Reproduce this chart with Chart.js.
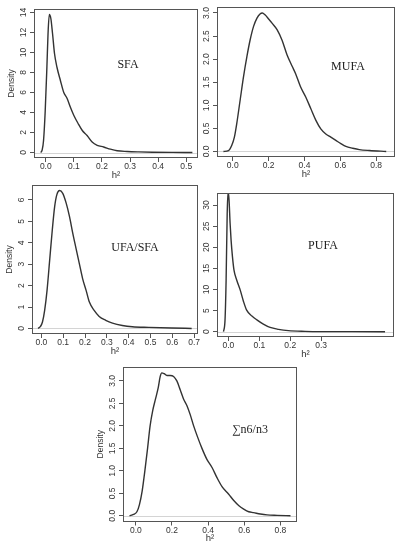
<!DOCTYPE html>
<html>
<head>
<meta charset="utf-8">
<script src="https://cdn.jsdelivr.net/npm/chart.js@4.4.1/dist/chart.umd.min.js"></script>
<style>
  html, body { margin: 0; padding: 0; background: #fff; }
  #page { position: relative; width: 399px; height: 550px; overflow: hidden; }
  #page canvas { position: absolute; left: 0; top: 0; }
</style>
</head>
<body>
<div id="page">
  <canvas id="sfa" width="399" height="550"></canvas>
  <canvas id="mufa" width="399" height="550"></canvas>
  <canvas id="ufasfa" width="399" height="550"></canvas>
  <canvas id="pufa" width="399" height="550"></canvas>
  <canvas id="n6n3" width="399" height="550"></canvas>
</div>
<script>
// posterior densities of h2
const sfaH2 = [-0.018, -0.013, -0.008, -0.002, 0.004, 0.008, 0.0125, 0.018, 0.024, 0.031, 0.04, 0.052, 0.064, 0.076, 0.088, 0.1, 0.115, 0.13, 0.147, 0.165, 0.183, 0.206, 0.23, 0.254, 0.29, 0.33, 0.38, 0.45, 0.522];
const sfaDensity = [0, 0.25, 1.2, 4.2, 8.6, 11.9, 13.8, 13.4, 11.9, 9.9, 8.5, 7.2, 6.0, 5.4, 4.5, 3.7, 2.9, 2.2, 1.7, 1.05, 0.72, 0.55, 0.33, 0.17, 0.1, 0.06, 0.03, 0.01, 0];

const mufaH2 = [-0.052, -0.024, -0.006, 0.009, 0.022, 0.041, 0.06, 0.079, 0.097, 0.116, 0.135, 0.152, 0.165, 0.18, 0.2, 0.219, 0.247, 0.275, 0.303, 0.332, 0.35, 0.378, 0.407, 0.435, 0.463, 0.491, 0.519, 0.547, 0.575, 0.603, 0.631, 0.669, 0.706, 0.763, 0.856];
const mufaDensity = [0, 0.02, 0.13, 0.31, 0.6, 1.11, 1.62, 2.06, 2.42, 2.71, 2.89, 2.98, 3.0, 2.96, 2.87, 2.78, 2.64, 2.41, 2.09, 1.84, 1.69, 1.4, 1.18, 0.93, 0.68, 0.49, 0.38, 0.31, 0.24, 0.17, 0.11, 0.07, 0.04, 0.02, 0];

const ufaSfaH2 = [-0.015, -0.005, 0.005, 0.015, 0.026, 0.038, 0.05, 0.061, 0.071, 0.083, 0.098, 0.114, 0.129, 0.144, 0.159, 0.174, 0.189, 0.205, 0.22, 0.242, 0.265, 0.295, 0.326, 0.371, 0.417, 0.492, 0.598, 0.689];
const ufaSfaDensity = [0, 0.08, 0.3, 0.84, 1.78, 3.19, 4.6, 5.7, 6.25, 6.44, 6.31, 5.84, 5.22, 4.44, 3.73, 3.03, 2.33, 1.78, 1.23, 0.84, 0.56, 0.38, 0.25, 0.14, 0.08, 0.05, 0.02, 0];

const pufaH2 = [-0.016, -0.011, -0.0075, -0.004, -0.001, 0.002, 0.0054, 0.0086, 0.013, 0.018, 0.027, 0.038, 0.049, 0.059, 0.076, 0.092, 0.113, 0.135, 0.162, 0.194, 0.248, 0.3, 0.4, 0.507];
const pufaDensity = [0, 2.8, 12.2, 28, 33.2, 31.2, 25.7, 21.7, 17.8, 14.6, 12.2, 9.9, 7.1, 5.1, 3.7, 2.8, 1.8, 1.0, 0.55, 0.24, 0.08, 0.02, 0.005, 0];

const n6n3H2 = [-0.035, -0.013, 0.006, 0.02, 0.035, 0.05, 0.065, 0.079, 0.094, 0.109, 0.124, 0.135, 0.144, 0.157, 0.172, 0.19, 0.209, 0.227, 0.246, 0.264, 0.283, 0.301, 0.32, 0.342, 0.366, 0.394, 0.421, 0.449, 0.477, 0.514, 0.542, 0.569, 0.597, 0.625, 0.652, 0.689, 0.726, 0.782, 0.856];
const n6n3Density = [0, 0.03, 0.09, 0.25, 0.55, 1.0, 1.5, 2.0, 2.35, 2.6, 2.85, 3.1, 3.18, 3.16, 3.12, 3.12, 3.1, 3.0, 2.8, 2.6, 2.45, 2.25, 2.0, 1.75, 1.5, 1.25, 1.08, 0.85, 0.65, 0.48, 0.34, 0.23, 0.15, 0.09, 0.07, 0.04, 0.02, 0.01, 0];

// tick labels
const sfaXTicks = [0, 0.1, 0.2, 0.3, 0.4, 0.5];
const sfaYTicks = [0, 2, 4, 6, 8, 10, 12, 14];
const mufaXTicks = [0, 0.2, 0.4, 0.6, 0.8];
const mufaYTicks = [0, 0.5, 1, 1.5, 2, 2.5, 3];
const ufaSfaXTicks = [0, 0.1, 0.2, 0.3, 0.4, 0.5, 0.6, 0.7];
const ufaSfaYTicks = [0, 1, 2, 3, 4, 5, 6];
const pufaXTicks = [0, 0.1, 0.2, 0.3];
const pufaYTicks = [0, 5, 10, 15, 20, 25, 30];
const n6n3XTicks = [0, 0.2, 0.4, 0.6, 0.8];
const n6n3YTicks = [0, 0.5, 1, 1.5, 2, 2.5, 3];

Chart.defaults.font.family = "'Liberation Sans', Arial, sans-serif";

const panels = [
  { id: "sfa", name: "SFA", h2: sfaH2, density: sfaDensity, xTicks: sfaXTicks, yTicks: sfaYTicks, yDigits: 0,
    box: { l: 34, t: 9, r: 198, b: 158 }, xRange: [-0.042, 0.542], yRange: [-0.55, 14.35], nameAt: [128, 65], ylab: true },
  { id: "mufa", name: "MUFA", h2: mufaH2, density: mufaDensity, xTicks: mufaXTicks, yTicks: mufaYTicks, yDigits: 1,
    box: { l: 217, t: 7, r: 395, b: 157 }, xRange: [-0.088, 0.905], yRange: [-0.12, 3.13], nameAt: [348, 67], ylab: false },
  { id: "ufasfa", name: "UFA/SFA", h2: ufaSfaH2, density: ufaSfaDensity, xTicks: ufaSfaXTicks, yTicks: ufaSfaYTicks, yDigits: 0,
    box: { l: 32, t: 185, r: 198, b: 334 }, xRange: [-0.043, 0.718], yRange: [-0.26, 6.7], nameAt: [135, 248], ylab: true },
  { id: "pufa", name: "PUFA", h2: pufaH2, density: pufaDensity, xTicks: pufaXTicks, yTicks: pufaYTicks, yDigits: 0,
    box: { l: 217, t: 193, r: 394, b: 337 }, xRange: [-0.037, 0.536], yRange: [-1.26, 32.86], nameAt: [323, 246], ylab: false },
  { id: "n6n3", name: "\u2211n6/n3", h2: n6n3H2, density: n6n3Density, xTicks: n6n3XTicks, yTicks: n6n3YTicks, yDigits: 1,
    box: { l: 123, t: 367, r: 297, b: 521.5 }, xRange: [-0.071, 0.892], yRange: [-0.127, 3.31], nameAt: [250, 430], ylab: true }
];

// R-like frame: box, grey zero line, rotated y labels, axis titles, panel name
function rFrame(p) {
  return {
    id: "rFrame",
    beforeDatasetsDraw(chart) {
      const { ctx, chartArea: a, scales: { y } } = chart;
      const y0 = Math.round(y.getPixelForValue(0)) + 0.5;
      ctx.save();
      ctx.strokeStyle = "#d4d4d4";
      ctx.lineWidth = 1;
      ctx.beginPath();
      ctx.moveTo(a.left, y0);
      ctx.lineTo(a.right, y0);
      ctx.stroke();
      ctx.restore();
    },
    afterDraw(chart) {
      const { ctx, chartArea: a, scales: { y } } = chart;
      ctx.save();
      ctx.strokeStyle = "#555";
      ctx.lineWidth = 1;
      ctx.strokeRect(Math.round(a.left) + 0.5, Math.round(a.top) + 0.5, Math.round(a.right - a.left) - 1, Math.round(a.bottom - a.top) - 1);

      ctx.fillStyle = "#333";
      ctx.textAlign = "center";
      ctx.textBaseline = "middle";
      ctx.font = "8.5px 'Liberation Sans', Arial, sans-serif";
      p.yTicks.forEach(v => {
        ctx.save();
        ctx.translate(a.left - 10, y.getPixelForValue(v));
        ctx.rotate(-Math.PI / 2);
        ctx.fillText(v.toFixed(p.yDigits), 0, 0);
        ctx.restore();
      });

      ctx.font = "9.5px 'Liberation Sans', Arial, sans-serif";
      ctx.fillText("h\u00b2", (a.left + a.right) / 2, a.bottom + 17);
      if (p.ylab) {
        ctx.save();
        ctx.translate(a.left - 22, (a.top + a.bottom) / 2);
        ctx.rotate(-Math.PI / 2);
        ctx.font = "8.5px 'Liberation Sans', Arial, sans-serif";
        ctx.fillText("Density", 0, 0);
        ctx.restore();
      }

      ctx.fillStyle = "#222";
      ctx.font = "12px 'Liberation Serif', 'Times New Roman', serif";
      ctx.fillText(p.name, p.nameAt[0], p.nameAt[1]);
      ctx.restore();
    }
  };
}

const yAxisW = 30;
const xAxisH = 30;

panels.forEach(p => {
  new Chart(document.getElementById(p.id), {
    type: "line",
    data: {
      datasets: [{
        data: p.h2.map((v, i) => ({ x: v, y: p.density[i] })),
        borderColor: "#333",
        borderWidth: 1.4,
        pointRadius: 0,
        fill: false,
        cubicInterpolationMode: "monotone"
      }]
    },
    options: {
      responsive: false,
      animation: false,
      events: [],
      layout: {
        padding: { left: p.box.l - yAxisW, top: p.box.t, right: 399 - p.box.r, bottom: 550 - p.box.b - xAxisH }
      },
      plugins: { legend: { display: false }, tooltip: { enabled: false } },
      scales: {
        x: {
          type: "linear",
          min: p.xRange[0],
          max: p.xRange[1],
          afterBuildTicks: s => { s.ticks = p.xTicks.map(v => ({ value: v })); },
          afterFit: s => { s.height = xAxisH; },
          border: { display: false },
          grid: { drawOnChartArea: false, drawTicks: true, tickLength: 4, color: "#555" },
          ticks: { color: "#333", font: { size: 8.5 }, padding: 0, maxRotation: 0, autoSkip: false, callback: v => v.toFixed(1) }
        },
        y: {
          type: "linear",
          min: p.yRange[0],
          max: p.yRange[1],
          afterBuildTicks: s => { s.ticks = p.yTicks.map(v => ({ value: v })); },
          afterFit: s => { s.width = yAxisW; },
          border: { display: false },
          grid: { drawOnChartArea: false, drawTicks: true, tickLength: 4, color: "#555" },
          ticks: { display: false }
        }
      }
    },
    plugins: [rFrame(p)]
  });
});
</script>
</body>
</html>
